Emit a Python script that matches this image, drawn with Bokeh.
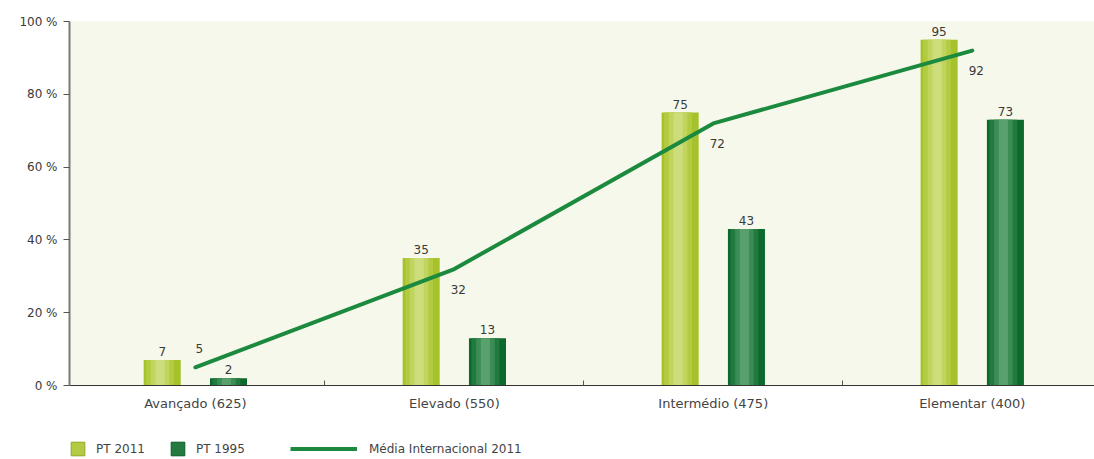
from bokeh.plotting import figure
from bokeh.layouts import column
from bokeh.models import Range1d, FixedTicker, Legend, LegendItem, ColumnDataSource
from bokeh.core.properties import value
from bokeh.embed import file_html
from bokeh.resources import INLINE
from bokeh.transform import dodge

# ---- data ----
categories = ["Avançado (625)", "Elevado (550)", "Intermédio (475)", "Elementar (400)"]
pt2011 = [7, 35, 75, 95]
pt1995 = [2, 13, 43, 73]
media2011 = [5, 32, 72, 92]
y_ticks = [0, 20, 40, 60, 80, 100]
y_tick_labels = ["0 %", "20 %", "40 %", "60 %", "80 %", "100 %"]
series_names = ["PT 2011", "PT 1995", "Média Internacional 2011"]

# ---- style ----
FONT = "DejaVu Sans"
TXT = "#3a3a3a"
OFF = 0.128
W = 0.143
c2011 = ["#a6c22a", "#b3cb42", "#c0d45e", "#cddd7c"]
c1995 = ["#0c6a2d", "#237a40", "#3c8c55", "#58a06c"]
LINE_C = "#1c8a3e"

xc = [i + 0.5 for i in range(len(categories))]
med_off = [-19] + [20] * (len(media2011) - 1)
src = ColumnDataSource(dict(
    x=xc, cat=categories, pt2011=pt2011, pt1995=pt1995, media=media2011,
    l2011=[str(v) for v in pt2011], l1995=[str(v) for v in pt1995],
    lmed=[str(v) for v in media2011], med_off=med_off,
))

p = figure(width=1094, height=436, output_backend="svg", toolbar_location=None,
           x_range=Range1d(0.014, 3.972), y_range=Range1d(0, 100),
           min_border_left=69, min_border_right=0, min_border_top=21, min_border_bottom=51)
p.background_fill_color = "#f5f8ea"
p.border_fill_color = "white"
p.outline_line_color = None
p.xgrid.visible = False
p.ygrid.visible = False

# bars with a simple layered "gradient"
fracs = [1.0, 0.75, 0.5, 0.25]
for i, f in enumerate(fracs):
    shift = -0.008 if i else 0
    p.vbar(x=dodge("x", -OFF + shift), top="pt2011", width=W * f, source=src,
           fill_color=c2011[i], line_color=None)
    p.vbar(x=dodge("x", OFF + shift), top="pt1995", width=W * f, source=src,
           fill_color=c1995[i], line_color=None)

p.line(x="x", y="media", source=src, line_width=4, line_color=LINE_C, line_cap="round",
       line_join="round")

# value labels
p.text(x=dodge("x", -OFF), y="pt2011", text="l2011", source=src, text_align="center",
       text_baseline="bottom", y_offset=-4, text_font=value(FONT), text_font_size="12px",
       text_color=TXT)
p.text(x=dodge("x", OFF), y="pt1995", text="l1995", source=src, text_align="center",
       text_baseline="bottom", y_offset=-4, text_font=value(FONT), text_font_size="12px",
       text_color=TXT)
p.text(x="x", y="media", text="lmed", source=src, text_align="center",
       text_baseline="middle", y_offset="med_off", x_offset=4, text_font=value(FONT),
       text_font_size="12px", text_color=TXT)

# axes
p.yaxis.ticker = FixedTicker(ticks=y_ticks)
p.yaxis.major_label_overrides = {t: l for t, l in zip(y_ticks, y_tick_labels)}
p.yaxis.axis_line_color = "#7a7a7a"
p.yaxis.axis_line_width = 2
p.yaxis.major_tick_out = 6
p.yaxis.major_tick_in = 0
p.yaxis.major_tick_line_color = "#555555"
p.yaxis.minor_tick_line_color = None
p.yaxis.major_label_text_font = FONT
p.yaxis.major_label_text_font_size = "12px"
p.yaxis.major_label_text_color = TXT
p.yaxis.major_label_standoff = 6

p.xaxis.ticker = FixedTicker(ticks=xc, minor_ticks=[i for i in range(1, len(categories))])
p.xaxis.major_label_overrides = {x: c for x, c in zip(xc, categories)}
p.xaxis.axis_line_color = "#333333"
p.xaxis.major_tick_in = 0
p.xaxis.major_tick_out = 0
p.xaxis.minor_tick_in = 5
p.xaxis.minor_tick_out = 0
p.xaxis.minor_tick_line_color = "#555555"
p.xaxis.major_label_text_font = FONT
p.xaxis.major_label_text_font_size = "13px"
p.xaxis.major_label_text_color = "#444444"
p.xaxis.major_label_standoff = 10

# ---- legend strip (separate small figure so nothing is clipped) ----
lg = figure(width=1094, height=23, output_backend="svg", toolbar_location=None,
            x_range=Range1d(0, 1), y_range=Range1d(0, 1),
            x_axis_location=None, y_axis_location=None,
            min_border_left=0, min_border_right=0, min_border_top=0, min_border_bottom=0)
lg.grid.visible = False
lg.outline_line_color = None
lg.background_fill_color = "white"
# proxy renderers for the legend keys (their single point lies outside the view)
proxy = ColumnDataSource(dict(x=[-5], top=[-5], y=[-5]))
g2011 = lg.vbar(x="x", top="top", width=0.1, source=proxy, fill_color=c2011[1],
                line_color="#8fa820")
g1995 = lg.vbar(x="x", top="top", width=0.1, source=proxy, fill_color=c1995[1],
                line_color="#0a5a25")
gline = lg.line(x="x", y="y", source=proxy, line_width=4, line_color=LINE_C)

common = dict(orientation="horizontal", padding=0, margin=0, border_line_color=None,
              background_fill_alpha=0, label_text_font=FONT, label_text_font_size="12px",
              label_text_color="#444444", label_height=17, glyph_height=17)
# (frame of this strip is aligned with the chart frame by the column layout)
leg1 = Legend(items=[LegendItem(label=series_names[0], renderers=[g2011]),
                     LegendItem(label=series_names[1], renderers=[g1995])],
              location=(0, 2), glyph_width=17, spacing=24, label_standoff=10, **common)
leg2 = Legend(items=[LegendItem(label=series_names[2], renderers=[gline])],
              location=(221, 2), glyph_width=67, label_standoff=12, **common)
lg.add_layout(leg1)
lg.add_layout(leg2)

layout = column(p, lg, spacing=0)
open("out.html", "w").write(file_html(layout, INLINE))
